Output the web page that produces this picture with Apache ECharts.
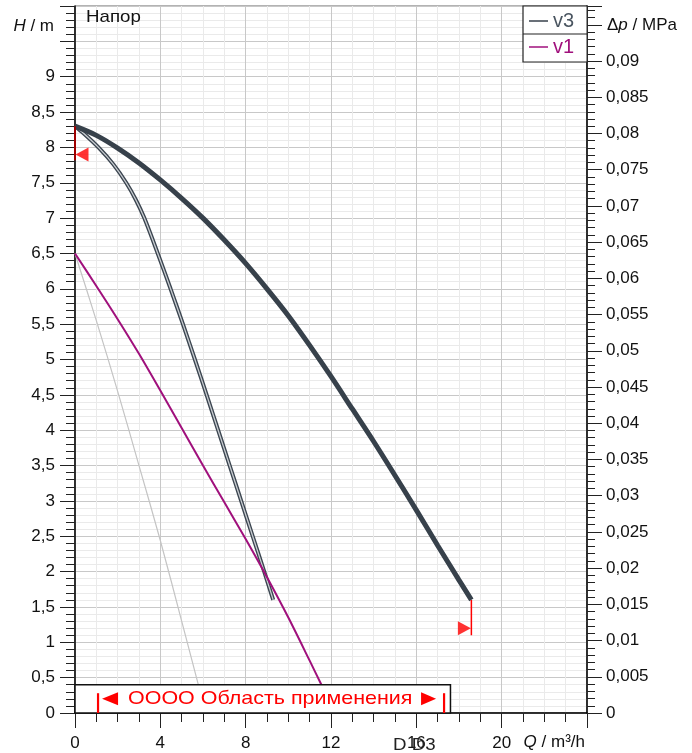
<!DOCTYPE html>
<html><head><meta charset="utf-8">
<script src="https://cdn.jsdelivr.net/npm/echarts@6/dist/echarts.min.js"></script>
<style>html,body{margin:0;padding:0;background:#fff}#c{width:692px;height:753px}</style>
</head><body><div id="c"></div>
<script>
// ---- data ----
const v3MaxQ = [0, 1, 2, 3, 4, 5, 6, 7, 8, 9, 10, 11, 12, 13, 14, 15, 16, 17, 18, 18.58];
const v3MaxH = [8.3, 8.17, 7.99, 7.78, 7.54, 7.28, 7.0, 6.69, 6.36, 6.0, 5.62, 5.2, 4.76, 4.3, 3.84, 3.36, 2.87, 2.37, 1.88, 1.6];
const v3MinQ = [0, 0.4, 1.1, 1.8, 2.4, 2.85, 3.25, 3.88, 4.48, 5.06, 5.62, 6.17, 6.71, 7.25, 7.79, 8.33, 8.87, 9.29];
const v3MinH = [8.3, 8.2, 8.0, 7.76, 7.5, 7.26, 7.0, 6.5, 6.0, 5.5, 5.0, 4.5, 4.0, 3.5, 3.0, 2.5, 2.0, 1.6];
const v1Q = [0, 1, 2, 3, 4, 5, 6, 7, 8, 9, 10, 11, 11.55];
const v1H = [6.5, 6.04, 5.57, 5.08, 4.56, 4.03, 3.5, 2.98, 2.46, 1.92, 1.35, 0.74, 0.4];
const refQ = [0, 1, 2, 3, 4, 5, 5.78];
const refH = [6.5, 5.55, 4.55, 3.5, 2.44, 1.3, 0.4];
const dutyLeftQ = [0, 0];      const dutyLeftH = [8.3, 7.82];
const dutyRightQ = [18.58, 18.58]; const dutyRightH = [1.6, 1.1];
const markerQ = [0, 18.58];    const markerH = [7.9, 1.2];
const boxQ = [0, 17.6];        const boxH = [0, 0.4];
const rangeQ = [1.08, 17.3];   const rangeBarH = [0, 0.28];
const qMax = 24, hMax = 10, pMax = 0.0976;
const legendNames = ['v3', 'v1'];
const rangeText = 'ОООО Область применения';

// ---- helpers ----
const FONT = '"Liberation Sans", Arial, Helvetica, sans-serif';
const zip = (a, b) => a.map((x, i) => [x, b[i]]);
const comma = v => String(+v.toFixed(4)).replace('.', ',');
const C_MAX = '#37414b', C_MIN = '#3b4550', C_V1 = '#a0107c', C_REF = '#c4c4c4', RED = '#ff0000';

const chart = echarts.init(document.getElementById('c'));
const nameStyle = (align, pad) => ({
  align: align, verticalAlign: 'middle', padding: pad, fontSize: 17, color: '#111', fontFamily: FONT,
  rich: { i: { fontStyle: 'italic', fontSize: 17, color: '#111', fontFamily: FONT } }
});
const option = {
  animation: false,
  backgroundColor: '#fff',
  textStyle: { fontFamily: FONT },
  grid: { left: 75, right: 105, top: 6, bottom: 40, containLabel: false, outerBoundsMode: 'none',
          show: true, borderColor: '#666', borderWidth: 1, backgroundColor: '#fff' },
  legend: {
    data: [
      { name: legendNames[0], textStyle: { color: '#4a5560' } },
      { name: legendNames[1], textStyle: { color: C_V1 } }
    ],
    orient: 'vertical', left: 523, top: 6,
    padding: [5, 13, 5, 6], itemGap: 6,
    icon: 'rect', itemWidth: 19, itemHeight: 1.5,
    borderColor: '#222', borderWidth: 1.2, backgroundColor: '#fff',
    textStyle: { fontSize: 20, fontFamily: FONT },
    selectedMode: false
  },
  xAxis: {
    type: 'value', min: 0, max: qMax, interval: 4,
    axisLine: { show: true, onZero: false, lineStyle: { color: '#000', width: 1.5 } },
    axisTick: { show: true, length: 15, lineStyle: { color: '#222' } },
    minorTick: { show: true, splitNumber: 4, length: 9, lineStyle: { color: '#222' } },
    axisLabel: { fontSize: 17, color: '#111', margin: 22, fontFamily: FONT,
                 formatter: v => v >= qMax ? '' : comma(v) },
    splitLine: { show: true, lineStyle: { color: '#c8c8c8' } },
    minorSplitLine: { show: true, lineStyle: { color: '#eaeaea' } },
    name: '{i|Q} / m³/h', nameLocation: 'end', nameGap: 0, nameMoveOverlap: false,
    nameTextStyle: Object.assign(nameStyle('right', [21, 2, 0, 0]), { verticalAlign: 'top' })
  },
  yAxis: [
    {
      type: 'value', min: 0, max: hMax, interval: 0.5, position: 'left',
      axisLine: { show: true, onZero: false, lineStyle: { color: '#000', width: 1.5 } },
      axisTick: { show: true, length: 15, lineStyle: { color: '#222' } },
      minorTick: { show: true, splitNumber: 5, length: 9, lineStyle: { color: '#222' } },
      axisLabel: { fontSize: 17, color: '#111', margin: 20, fontFamily: FONT,
                   formatter: v => v > 9.25 ? '' : comma(v) },
      splitLine: { show: true, lineStyle: { color: '#c8c8c8' } },
      minorSplitLine: { show: true, lineStyle: { color: '#eaeaea' } },
      name: '{i|H} / m', nameLocation: 'end', nameGap: -20, nameMoveOverlap: false,
      nameTextStyle: nameStyle('right', [0, 21, 0, 0])
    },
    {
      type: 'value', min: 0, max: pMax, interval: 0.005, position: 'right', alignTicks: false,
      axisLine: { show: true, onZero: false, lineStyle: { color: '#000', width: 1.5 } },
      axisTick: { show: true, length: 15, lineStyle: { color: '#222' } },
      minorTick: { show: true, splitNumber: 5, length: 8, lineStyle: { color: '#222' } },
      axisLabel: { fontSize: 17, color: '#111', margin: 19, fontFamily: FONT,
                   formatter: v => v > 0.0925 ? '' : comma(v) },
      splitLine: { show: false }, minorSplitLine: { show: false },
      name: '\u0394{i|p} / MPa', nameLocation: 'end', nameGap: -19, nameMoveOverlap: false,
      nameTextStyle: nameStyle('left', [0, 0, 0, 20])
    }
  ],
  series: [
    { name: 'ref', type: 'line', data: zip(refQ, refH), symbol: 'none', silent: true, smooth: 0.3,
      lineStyle: { color: C_REF, width: 1.2 }, itemStyle: { color: C_REF }, z: 2 },
    { name: 'v3min', type: 'line', data: zip(v3MinQ, v3MinH), symbol: 'none', silent: true, smooth: 0.3,
      lineStyle: { color: C_MIN, width: 4 }, itemStyle: { color: C_MIN }, z: 3 },
    { name: 'v3minInner', type: 'line', data: zip(v3MinQ, v3MinH), symbol: 'none', silent: true, smooth: 0.3,
      lineStyle: { color: '#c9cdd1', width: 1.3 }, itemStyle: { color: '#c9cdd1' }, z: 4 },
    { name: legendNames[0], type: 'line', data: zip(v3MaxQ, v3MaxH), symbol: 'none', silent: true, smooth: 0.3,
      lineStyle: { color: C_MAX, width: 5 }, itemStyle: { color: C_MAX }, z: 5 },
    { name: legendNames[1], type: 'line', data: zip(v1Q, v1H), symbol: 'none', silent: true, smooth: 0.3,
      lineStyle: { color: C_V1, width: 2 }, itemStyle: { color: C_V1 }, z: 6 },
    { name: 'dutyL', type: 'line', data: zip(dutyLeftQ, dutyLeftH), symbol: 'none', silent: true,
      lineStyle: { color: '#a00000', width: 2 }, z: 7 },
    { name: 'dutyR', type: 'line', data: zip(dutyRightQ, dutyRightH), symbol: 'none', silent: true,
      lineStyle: { color: RED, width: 1.5 }, z: 7 },
    { name: 'markers', type: 'scatter', silent: true, z: 8,
      symbol: 'triangle', symbolSize: [14, 13], itemStyle: { color: RED },
      data: [
        { value: [markerQ[0], markerH[0]], symbolRotate: 90, symbolOffset: [7, 0] },
        { value: [markerQ[1], markerH[1]], symbolRotate: -90, symbolOffset: [-7, 0] }
      ] }
  ]
};
chart.setOption(option);

const px = (q, h) => chart.convertToPixel({ gridIndex: 0 }, [q, h]);
const bTL = px(boxQ[0], boxH[1]), bBR = px(boxQ[1], boxH[0]);
const rL0 = px(rangeQ[0], rangeBarH[0]), rL1 = px(rangeQ[0], rangeBarH[1]);
const rR0 = px(rangeQ[1], rangeBarH[0]), rR1 = px(rangeQ[1], rangeBarH[1]);
const midY = (bTL[1] + bBR[1]) / 2;

chart.setOption({
  graphic: [
    { type: 'text', x: 86, y: 17, z: 100, scaleX: 1.1,
      style: { text: 'Напор', font: '17px ' + FONT, fill: '#111', verticalAlign: 'middle' } },
    { type: 'line', z: 100, shape: { x1: 523, y1: 34, x2: 587, y2: 34 }, style: { stroke: '#222', lineWidth: 1.2 } },
    { type: 'rect', z: 100, shape: { x: bTL[0], y: bTL[1], width: bBR[0] - bTL[0], height: bBR[1] - bTL[1] },
      style: { fill: '#fff', stroke: '#111', lineWidth: 1.5 } },
    { type: 'line', z: 101, shape: { x1: rL0[0], y1: rL0[1], x2: rL1[0], y2: rL1[1] }, style: { stroke: RED, lineWidth: 2.2 } },
    { type: 'line', z: 101, shape: { x1: rR0[0], y1: rR0[1], x2: rR1[0], y2: rR1[1] }, style: { stroke: RED, lineWidth: 2.2 } },
    { type: 'polygon', z: 101,
      shape: { points: [[rL0[0] + 4, midY], [rL0[0] + 20, midY - 6.5], [rL0[0] + 20, midY + 6.5]] },
      style: { fill: RED } },
    { type: 'polygon', z: 101,
      shape: { points: [[rR0[0] - 8, midY], [rR0[0] - 23, midY - 6.5], [rR0[0] - 23, midY + 6.5]] },
      style: { fill: RED } },
    { type: 'text', z: 101, x: 128, y: midY, scaleX: 1.16,
      style: { text: rangeText, font: '18.5px ' + FONT, fill: RED, verticalAlign: 'middle', align: 'left' } },
    { type: 'text', z: 100, x: 393, y: 745, scaleX: 1.1,
      style: { text: 'D D3', font: '17px ' + FONT, fill: '#222', verticalAlign: 'middle', align: 'left' } }
  ]
});
</script></body></html>
